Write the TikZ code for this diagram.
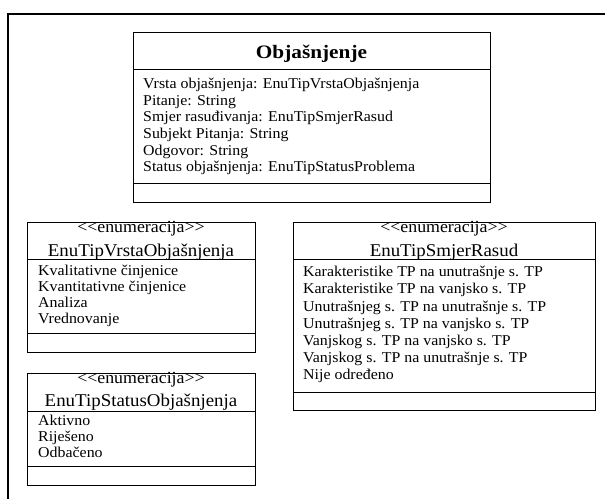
\documentclass[tikz,border=0pt]{standalone}
\usepackage{fontspec}
\setmainfont{Liberation Serif}
\newfontfamily\bodyf[FakeStretch=1.06]{Liberation Serif}
\newfontfamily\headf[FakeStretch=1.05]{Liberation Serif}
\newfontfamily\titlef[FakeStretch=1.12]{Liberation Serif}
\tikzset{
  umlbox/.style={draw=black, line width=0.8pt, inner sep=0pt, outer sep=0pt, anchor=north west},
  sepline/.style={draw=black, line width=0.8pt},
  frameline/.style={draw=black, line width=1.6pt},
  lit/.style={anchor=base west, inner sep=0pt, font=\bodyf\fontsize{15}{16}\selectfont},
  hdr/.style={anchor=base, inner sep=0pt, font=\headf\fontsize{18}{20}\selectfont},
  stereo/.style={anchor=base, inner sep=0pt, font=\headf\fontsize{17}{19}\selectfont},
  ttl/.style={anchor=base, inner sep=0pt, font=\titlef\bfseries\fontsize{19}{21}\selectfont}
}
\begin{document}
\begin{tikzpicture}[x=1pt,y=-1pt]
\useasboundingbox (0,0) rectangle (605,498);
\clip (0,0) rectangle (605,498);
\fill[white] (0,0) rectangle (605,498);
% outer frame
\draw[frameline] (8,530) -- (8,14) -- (640,14);

% main class
\node[umlbox, minimum width=357pt, minimum height=170pt] (obj) at (133,32) {};
\draw[sepline] (obj.west |- 0,69) -- (obj.east |- 0,69);
\draw[sepline] (obj.west |- 0,183) -- (obj.east |- 0,183);
\node[ttl] (objT) at (311.5,58) {Objašnjenje};
\foreach \t [count=\i from 0] in {Vrsta objašnjenja: EnuTipVrstaObjašnjenja,
  Pitanje: String,
  Smjer rasuđivanja: EnuTipSmjerRasud,
  Subjekt Pitanja: String,
  Odgovor: String,
  Status objašnjenja: EnuTipStatusProblema}
  \node[lit] (objA\i) at (143,88.3+16.7*\i) {\t};

% EnuTipVrstaObjasnjenja
\node[umlbox, minimum width=228pt, minimum height=130pt] (vrsta) at (27,222) {};
\draw[sepline] (vrsta.west |- 0,259) -- (vrsta.east |- 0,259);
\draw[sepline] (vrsta.west |- 0,333) -- (vrsta.east |- 0,333);
\node[stereo] (vrstaS) at (141,232.7) {<<enumeracija>>};
\node[hdr] (vrstaN) at (141,256.2) {EnuTipVrstaObjašnjenja};
\foreach \t [count=\i from 0] in {Kvalitativne činjenice, Kvantitativne činjenice, Analiza, Vrednovanje}
  \node[lit] (vrstaL\i) at (38,275+16.1*\i) {\t};

% EnuTipSmjerRasud
\node[umlbox, minimum width=302pt, minimum height=188pt] (smjer) at (293,222) {};
\draw[sepline] (smjer.west |- 0,259) -- (smjer.east |- 0,259);
\draw[sepline] (smjer.west |- 0,392) -- (smjer.east |- 0,392);
\node[stereo] (smjerS) at (444,232.7) {<<enumeracija>>};
\node[hdr] (smjerN) at (444,256.2) {EnuTipSmjerRasud};
\foreach \t [count=\i from 0] in {Karakteristike TP na unutrašnje s. TP,
  Karakteristike TP na vanjsko s. TP,
  Unutrašnjeg s. TP na unutrašnje s. TP,
  Unutrašnjeg s. TP na vanjsko s. TP,
  Vanjskog s. TP na vanjsko s. TP,
  Vanjskog s. TP na unutrašnje s. TP,
  Nije određeno}
  \node[lit] (smjerL\i) at (303,276.7+17.2*\i) {\t};

% EnuTipStatusObjasnjenja
\node[umlbox, minimum width=228pt, minimum height=112pt] (status) at (27,373) {};
\draw[sepline] (status.west |- 0,411) -- (status.east |- 0,411);
\draw[sepline] (status.west |- 0,466) -- (status.east |- 0,466);
\node[stereo] (statusS) at (141,383) {<<enumeracija>>};
\node[hdr] (statusN) at (141,406.5) {EnuTipStatusObjašnjenja};
\foreach \t [count=\i from 0] in {Aktivno, Riješeno, Odbačeno}
  \node[lit] (statusL\i) at (38,425+16.3*\i) {\t};
\end{tikzpicture}
\end{document}
